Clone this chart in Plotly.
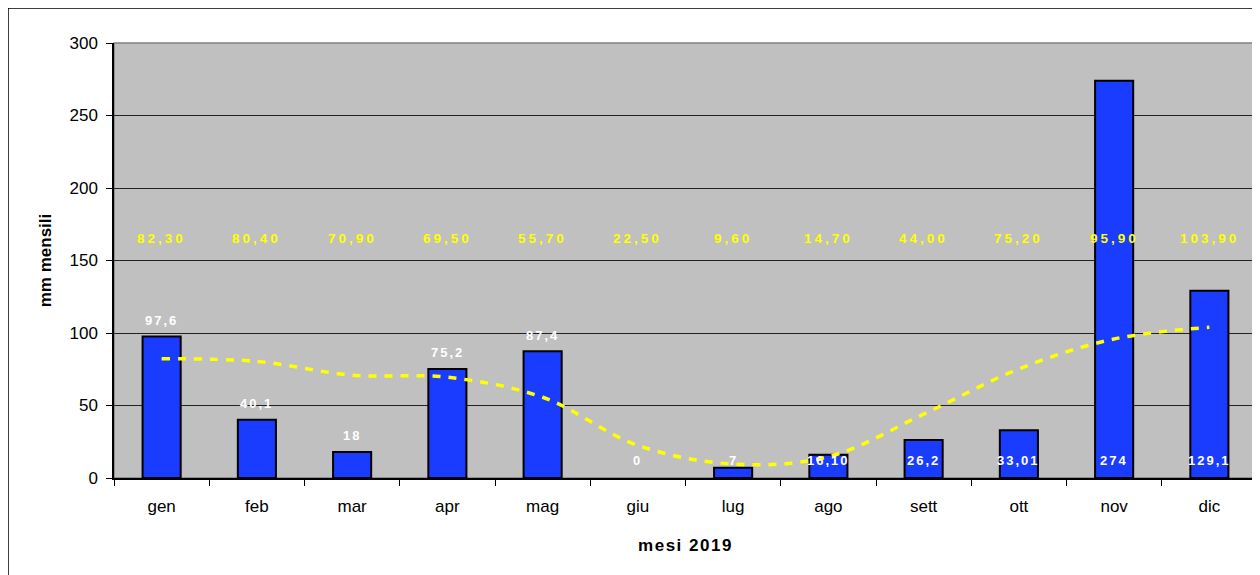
import plotly.graph_objects as go

months = ["gen", "feb", "mar", "apr", "mag", "giu", "lug", "ago", "sett", "ott", "nov", "dic"]
rain_2019 = [97.6, 40.1, 18, 75.2, 87.4, 0, 7, 16.1, 26.2, 33.01, 274, 129.1]
rain_labels = ["97,6", "40,1", "18", "75,2", "87,4", "0", "7", "16,10", "26,2", "33,01", "274", "129,1"]
rain_mean = [82.3, 80.4, 70.9, 69.5, 55.7, 22.5, 9.6, 14.7, 44.0, 75.2, 95.9, 103.9]
mean_labels = ["82,30", "80,40", "70,90", "69,50", "55,70", "22,50", "9,60", "14,70", "44,00", "75,20", "95,90", "103,90"]
y_ticks = [0, 50, 100, 150, 200, 250, 300]

# label placement style: above the bar for the first months, at the base for the rest
label_at_base = [False] * 5 + [True] * 7
MEAN_LABEL_LEVEL = 165

FONT = "Liberation Sans, Arial, sans-serif"

fig = go.Figure()
fig.add_trace(go.Bar(
    x=months, y=rain_2019,
    marker=dict(color="#1a3cff",
                line=dict(color="#000000", width=[2 if v > 0 else 0 for v in rain_2019])),
    hoverinfo="x+y", showlegend=False,
))
fig.add_trace(go.Scatter(
    x=months, y=rain_mean, mode="lines",
    line=dict(color="#ffff00", width=3.5, dash="8px,8px", shape="spline", smoothing=1),
    showlegend=False,
))

annotations = []
for m, v, t, base in zip(months, rain_2019, rain_labels, label_at_base):
    annotations.append(dict(
        x=m, y=0 if base else v, xref="x", yref="y",
        text='<span style="letter-spacing:2px">' + t + "</span>",
        showarrow=False, yanchor="middle", yshift=18 if base else 16,
        font=dict(family=FONT, size=13, color="#ffffff", weight="bold"),
    ))
for m, t in zip(months, mean_labels):
    annotations.append(dict(
        x=m, y=MEAN_LABEL_LEVEL, xref="x", yref="y",
        text='<span style="letter-spacing:3px">' + t + "</span>",
        showarrow=False, yanchor="middle",
        font=dict(family=FONT, size=13.5, color="#ffff00", weight="bold"),
    ))

fig.update_layout(
    width=1260, height=575,
    margin=dict(l=106, r=11, t=35, b=105),
    paper_bgcolor="#ffffff", plot_bgcolor="#c0c0c0",
    bargap=0.6,
    font=dict(family=FONT, size=17, color="#000000"),
    annotations=annotations,
    shapes=[
        dict(type="rect", xref="paper", yref="paper",
             x0=0, x1=1, y0=0, y1=1,
             line=dict(color="#808080", width=1.5), layer="below"),
        dict(type="rect", xref="paper", yref="paper",
             x0=-106 / 1143, x1=1.02, y0=-0.25, y1=470 / 435,
             line=dict(color="#000000", width=1.5)),
    ],
)
fig.update_xaxes(
    type="category", showgrid=False,
    showline=True, linecolor="#000000", linewidth=1.5,
    ticks="outside", tickson="boundaries", ticklen=6, tickcolor="#000000",
    tickfont=dict(size=17), ticklabelstandoff=12,
    title=dict(text='<span style="letter-spacing:1.5px">mesi 2019</span>',
               font=dict(size=17, weight="bold"), standoff=24),
)
fig.update_yaxes(
    range=[0, 300], tickvals=y_ticks,
    showgrid=True, gridcolor="#222222", gridwidth=1,
    showline=True, linecolor="#000000", linewidth=1.5,
    ticks="outside", ticklen=6, tickcolor="#000000",
    tickfont=dict(size=17), ticklabelstandoff=5, zeroline=False,
    title=dict(text="mm mensili", font=dict(size=17, weight="bold"), standoff=14),
)

fig.write_html("out.html")
